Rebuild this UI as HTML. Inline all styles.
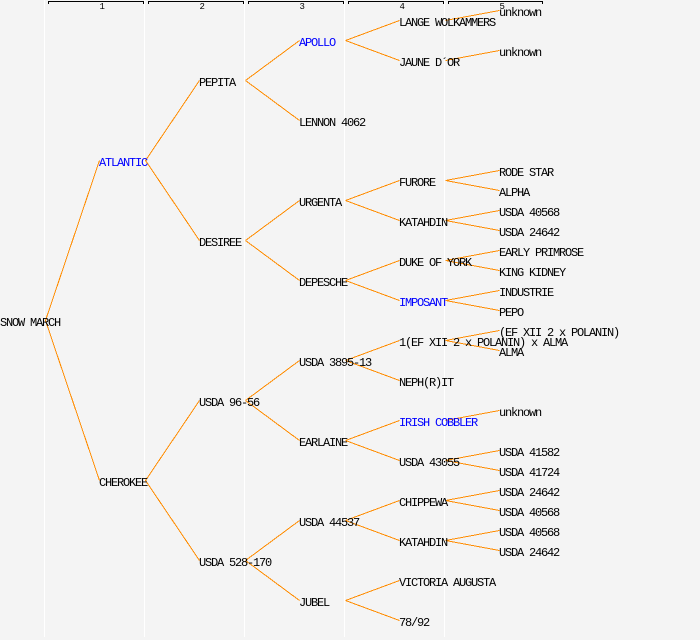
<!DOCTYPE html>
<html><head><meta charset="utf-8">
<style>
html,body{margin:0;padding:0;background:#f4f4f4;}
svg{display:block;}
text{font-family:"Liberation Mono","DejaVu Sans Mono",monospace;font-size:12px;letter-spacing:-1.2px;fill:#000;}
text.b{fill:#0000ff;}
text.h{font-size:9px;letter-spacing:0;}
</style></head>
<body>
<svg width="700" height="640" viewBox="0 0 700 640" xmlns="http://www.w3.org/2000/svg">
<rect x="0" y="0" width="700" height="640" fill="#f4f4f4"/>
<g fill="#ffffff">
<rect x="44" y="0" width="1" height="637"/>
<rect x="144" y="0" width="1" height="637"/>
<rect x="244" y="0" width="1" height="637"/>
<rect x="344" y="0" width="1" height="637"/>
<rect x="444" y="0" width="1" height="637"/>
</g>
<g stroke="#000" stroke-width="1" fill="none" shape-rendering="crispEdges">
<path d="M48.5 4V1.5H143.5V4"/>
<path d="M148.5 4V1.5H243.5V4"/>
<path d="M248.5 4V1.5H343.5V4"/>
<path d="M348.5 4V1.5H443.5V4"/>
<path d="M448.5 4V1.5H542.5V4"/>
</g>
<text class="h" x="99.5" y="9">1</text>
<text class="h" x="199.5" y="9">2</text>
<text class="h" x="299.5" y="9">3</text>
<text class="h" x="399.5" y="9">4</text>
<text class="h" x="499.5" y="9">5</text>

<g stroke="#ff8c00" stroke-width="1" fill="none" shape-rendering="crispEdges">
<!-- root -->
<line x1="45.5" y1="320.5" x2="99.5" y2="160.5"/>
<line x1="45.5" y1="320.5" x2="99.5" y2="480.5"/>
<!-- col1 -->
<line x1="145.5" y1="160.5" x2="199.5" y2="80.5"/>
<line x1="145.5" y1="160.5" x2="199.5" y2="240.5"/>
<line x1="145.5" y1="480.5" x2="199.5" y2="400.5"/>
<line x1="145.5" y1="480.5" x2="199.5" y2="560.5"/>
<!-- col2 -->
<line x1="245.5" y1="80.5" x2="299.5" y2="40.5"/>
<line x1="245.5" y1="80.5" x2="299.5" y2="120.5"/>
<line x1="245.5" y1="240.5" x2="299.5" y2="200.5"/>
<line x1="245.5" y1="240.5" x2="299.5" y2="280.5"/>
<line x1="245.5" y1="400.5" x2="299.5" y2="360.5"/>
<line x1="245.5" y1="400.5" x2="299.5" y2="440.5"/>
<line x1="245.5" y1="560.5" x2="299.5" y2="520.5"/>
<line x1="245.5" y1="560.5" x2="299.5" y2="600.5"/>
<!-- col3 -->
<line x1="345.5" y1="40.5" x2="399.5" y2="20.5"/>
<line x1="345.5" y1="40.5" x2="399.5" y2="60.5"/>
<line x1="345.5" y1="200.5" x2="399.5" y2="180.5"/>
<line x1="345.5" y1="200.5" x2="399.5" y2="220.5"/>
<line x1="345.5" y1="280.5" x2="399.5" y2="260.5"/>
<line x1="345.5" y1="280.5" x2="399.5" y2="300.5"/>
<line x1="345.5" y1="360.5" x2="399.5" y2="340.5"/>
<line x1="345.5" y1="360.5" x2="399.5" y2="380.5"/>
<line x1="345.5" y1="440.5" x2="399.5" y2="420.5"/>
<line x1="345.5" y1="440.5" x2="399.5" y2="460.5"/>
<line x1="345.5" y1="520.5" x2="399.5" y2="500.5"/>
<line x1="345.5" y1="520.5" x2="399.5" y2="540.5"/>
<line x1="345.5" y1="600.5" x2="399.5" y2="580.5"/>
<line x1="345.5" y1="600.5" x2="399.5" y2="620.5"/>
<!-- col4 -->
<line x1="445.5" y1="20.5" x2="499.5" y2="10.5"/>
<line x1="445.5" y1="60.5" x2="499.5" y2="50.5"/>
<line x1="445.5" y1="180.5" x2="499.5" y2="170.5"/>
<line x1="445.5" y1="180.5" x2="499.5" y2="190.5"/>
<line x1="445.5" y1="220.5" x2="499.5" y2="210.5"/>
<line x1="445.5" y1="220.5" x2="499.5" y2="230.5"/>
<line x1="445.5" y1="260.5" x2="499.5" y2="250.5"/>
<line x1="445.5" y1="260.5" x2="499.5" y2="270.5"/>
<line x1="445.5" y1="300.5" x2="499.5" y2="290.5"/>
<line x1="445.5" y1="300.5" x2="499.5" y2="310.5"/>
<line x1="445.5" y1="340.5" x2="499.5" y2="330.5"/>
<line x1="445.5" y1="340.5" x2="499.5" y2="350.5"/>
<line x1="445.5" y1="420.5" x2="499.5" y2="410.5"/>
<line x1="445.5" y1="460.5" x2="499.5" y2="450.5"/>
<line x1="445.5" y1="460.5" x2="499.5" y2="470.5"/>
<line x1="445.5" y1="500.5" x2="499.5" y2="490.5"/>
<line x1="445.5" y1="500.5" x2="499.5" y2="510.5"/>
<line x1="445.5" y1="540.5" x2="499.5" y2="530.5"/>
<line x1="445.5" y1="540.5" x2="499.5" y2="550.5"/>
</g>

<!-- col0 -->
<text x="0" y="326">SNOW MARCH</text>
<!-- col1 -->
<text class="b" x="99" y="166">ATLANTIC</text>
<text x="99" y="486">CHEROKEE</text>
<!-- col2 -->
<text x="199" y="86">PEPITA</text>
<text x="199" y="246">DESIREE</text>
<text x="199" y="406">USDA 96-56</text>
<text x="199" y="566">USDA 528-170</text>
<!-- col3 -->
<text class="b" x="299" y="46">APOLLO</text>
<text x="299" y="126">LENNON 4062</text>
<text x="299" y="206">URGENTA</text>
<text x="299" y="286">DEPESCHE</text>
<text x="299" y="366">USDA 3895-13</text>
<text x="299" y="446">EARLAINE</text>
<text x="299" y="526">USDA 44537</text>
<text x="299" y="606">JUBEL</text>
<!-- col4 -->
<text x="399" y="26">LANGE WOLKAMMERS</text>
<text x="399" y="66">JAUNE D´OR</text>
<text x="399" y="186">FURORE</text>
<text x="399" y="226">KATAHDIN</text>
<text x="399" y="266">DUKE OF YORK</text>
<text class="b" x="399" y="306">IMPOSANT</text>
<text x="399" y="346">1(EF XII 2 x POLANIN) x ALMA</text>
<text x="399" y="386">NEPH(R)IT</text>
<text class="b" x="399" y="426">IRISH COBBLER</text>
<text x="399" y="466">USDA 43055</text>
<text x="399" y="506">CHIPPEWA</text>
<text x="399" y="546">KATAHDIN</text>
<text x="399" y="586">VICTORIA AUGUSTA</text>
<text x="399" y="626">78/92</text>
<!-- col5 -->
<text x="499" y="16">unknown</text>
<text x="499" y="56">unknown</text>
<text x="499" y="176">RODE STAR</text>
<text x="499" y="196">ALPHA</text>
<text x="499" y="216">USDA 40568</text>
<text x="499" y="236">USDA 24642</text>
<text x="499" y="256">EARLY PRIMROSE</text>
<text x="499" y="276">KING KIDNEY</text>
<text x="499" y="296">INDUSTRIE</text>
<text x="499" y="316">PEPO</text>
<text x="499" y="336">(EF XII 2 x POLANIN)</text>
<text x="499" y="356">ALMA</text>
<text x="499" y="416">unknown</text>
<text x="499" y="456">USDA 41582</text>
<text x="499" y="476">USDA 41724</text>
<text x="499" y="496">USDA 24642</text>
<text x="499" y="516">USDA 40568</text>
<text x="499" y="536">USDA 40568</text>
<text x="499" y="556">USDA 24642</text>
</svg>
</body></html>
